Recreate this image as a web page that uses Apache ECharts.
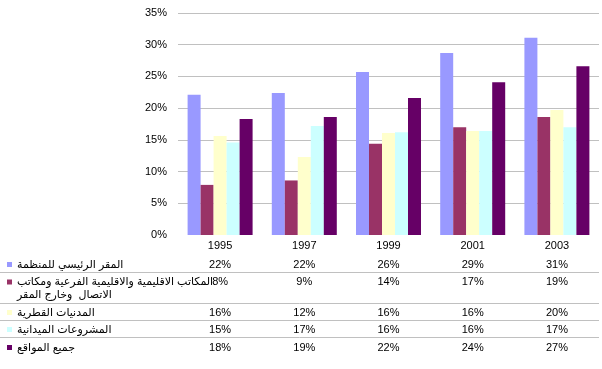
<!DOCTYPE html>
<html>
<head>
<meta charset="utf-8">
<script src="https://cdn.jsdelivr.net/npm/echarts@6/dist/echarts.min.js"></script>
<style>
html,body{margin:0;padding:0;background:#fff;}
#c{width:602px;height:369px;}
</style>
</head>
<body>
<div id="c"></div>
<script>
// ---- data ----
const categories = ['1995', '1997', '1999', '2001', '2003'];
const seriesNames = [
  'المقر الرئيسي للمنظمة',
  'المكاتب الاقليمية والاقليمية الفرعية ومكاتب الاتصال وخارج المقر',
  'المدنيات القطرية',
  'المشروعات الميدانية',
  'جميع المواقع'
];
const hqValues       = [22.1, 22.4, 25.7, 28.7, 31.1];
const regionalValues = [7.9, 8.6, 14.4, 17.0, 18.6];
const countryValues  = [15.6, 12.3, 16.1, 16.4, 19.7];
const fieldValues    = [14.6, 17.2, 16.2, 16.4, 17.0];
const allValues      = [18.3, 18.6, 21.6, 24.1, 26.6];
const yTicks = [0, 5, 10, 15, 20, 25, 30, 35];

const seriesValues = [hqValues, regionalValues, countryValues, fieldValues, allValues];
const colors = ['#9999FF', '#993366', '#FFFFCC', '#CCFFFF', '#660066'];

const FONT = '"Liberation Sans", Arial, "DejaVu Sans", sans-serif';

// table row label centres (y)
const rowCenters = [264.5, 282, 312.5, 329.5, 347.5];
const plotBottom = 235;

const xAxes = [{
  type: 'category',
  data: categories,
  gridIndex: 0,
  position: 'bottom',
  axisLine: {show: false},
  axisTick: {show: false},
  splitLine: {show: false},
  axisLabel: {color: '#000', fontFamily: FONT, fontSize: 11, margin: 4, lineHeight: 13, interval: 0}
}];
seriesValues.forEach((vals, r) => {
  xAxes.push({
    type: 'category',
    data: categories,
    gridIndex: 0,
    position: 'bottom',
    offset: rowCenters[r] - 6.5 - plotBottom,
    axisLine: {show: false},
    axisTick: {show: false},
    splitLine: {show: false},
    axisLabel: {
      color: '#000', fontFamily: FONT, fontSize: 11, margin: 0, lineHeight: 13, interval: 0,
      formatter: (v, i) => Math.round(vals[i]) + '%'
    }
  });
});

const legends = seriesNames.map((name, r) => {
  const twoLine = r === 1;
  return {
    data: [name],
    orient: 'vertical',
    left: 7,
    top: twoLine ? rowCenters[r] - 19.5 : rowCenters[r] - 6.5,
    padding: 0,
    itemWidth: 5,
    itemHeight: 5,
    icon: 'rect',
    selectedMode: false,
    formatter: twoLine ? (n => '\nالمكاتب الاقليمية والاقليمية الفرعية ومكاتب\nالاتصال  وخارج المقر') : undefined,
    textStyle: {
      color: '#000', fontFamily: FONT, fontSize: 11, lineHeight: 13
    }
  };
});

const lineYs = [272.5, 303.5, 320.5, 337.5];
const graphics = lineYs.map(y => ({
  type: 'line',
  shape: {x1: 0, y1: y, x2: 599, y2: y},
  style: {stroke: '#c0c0c0', lineWidth: 1},
  silent: true
}));

const chart = echarts.init(document.getElementById('c'), null, {renderer: 'canvas'});
chart.setOption({
  animation: false,
  backgroundColor: '#fff',
  color: colors,
  grid: {left: 178, right: 3, top: 13, bottom: 369 - plotBottom, containLabel: false},
  xAxis: xAxes,
  yAxis: {
    type: 'value',
    min: yTicks[0],
    max: yTicks[yTicks.length - 1],
    interval: 5,
    axisLine: {show: false},
    axisTick: {show: false},
    axisLabel: {color: '#000', fontFamily: FONT, fontSize: 11, margin: 11, formatter: v => v + '%'},
    splitLine: {show: true, showMinLine: false, lineStyle: {color: '#c0c0c0', width: 1}}
  },
  legend: legends,
  graphic: graphics,
  series: seriesNames.map((name, r) => ({
    name: name,
    type: 'bar',
    xAxisIndex: 0,
    data: seriesValues[r],
    barWidth: 13,
    barGap: '0%',
    itemStyle: {color: colors[r]},
    emphasis: {disabled: true}
  }))
});
</script>
</body>
</html>
